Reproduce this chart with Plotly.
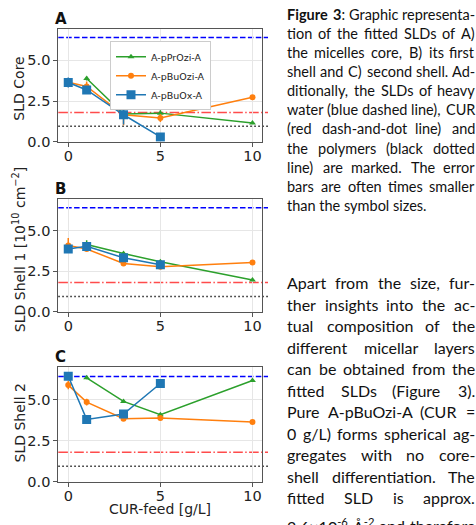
import re
import plotly.graph_objects as go

# ---------------- data ----------------
x_prozi = [1, 3, 5, 10]
x_buozi = [0, 1, 3, 5, 10]
x_buox = [0, 1, 3, 5]

core_prozi = [3.88, 1.70, 1.76, 1.15]
core_prozi_err = [0.12, 0.20, 0.18, 0.05]
core_buozi = [3.65, 3.40, 1.66, 1.46, 2.73]
core_buozi_err = [0.20, 0.30, 0.65, 0.25, 0.08]
core_buox = [3.64, 3.18, 1.66, 0.30]
core_buox_err = [0.30, 0.15, 0.60, 0.08]

shell1_prozi = [4.15, 3.59, 3.08, 1.96]
shell1_prozi_err = [0.25, 0.10, 0.10, 0.05]
shell1_buozi = [4.09, 3.87, 2.98, 2.78, 3.04]
shell1_buozi_err = [0.45, 0.10, 0.08, 0.08, 0.08]
shell1_buox = [3.87, 4.03, 3.33, 2.90]
shell1_buox_err = [0.15, 0.15, 0.15, 0.12]

shell2_prozi = [6.31, 4.88, 4.07, 6.15]
shell2_prozi_err = [0.08, 0.08, 0.08, 0.08]
shell2_buozi = [5.87, 4.84, 3.83, 3.87, 3.63]
shell2_buozi_err = [0.25, 0.20, 0.10, 0.10, 0.08]
shell2_buox = [6.41, 3.79, 4.11, 5.97]
shell2_buox_err = [0.25, 0.10, 0.10, 0.20]

sld_d2o = 6.4
sld_cur = 1.8
sld_polymer = 0.95

series_names = ["A-pPrOzi-A", "A-pBuOzi-A", "A-pBuOx-A"]
panel_labels = ["A", "B", "C"]
y_titles = ["SLD Core", "SLD Shell 1 [10<sup>10</sup> cm<sup>\u22122</sup>]", "SLD Shell 2"]
x_title = "CUR-feed [g/L]"
x_ticks = [0, 5, 10]
y_ticks = [0, 2.5, 5]
y_ticktext = ["0.0", "2.5", "5.0"]

caption_lines = [
    "Figure 3: Graphic representa-",
    "tion of the fitted SLDs of A)",
    "the micelles core, B) its first",
    "shell and C) second shell. Ad-",
    "ditionally, the SLDs of heavy",
    "water (blue dashed line), CUR",
    "(red dash-and-dot line) and",
    "the polymers (black dotted",
    "line) are marked. The error",
    "bars are often times smaller",
    "than the symbol sizes.",
]
body_lines = [
    "Apart from the size, fur-",
    "ther insights into the ac-",
    "tual composition of the",
    "different micellar layers",
    "can be obtained from the",
    "fitted SLDs (Figure 3).",
    "Pure A-pBuOzi-A (CUR =",
    "0 g/L) forms spherical ag-",
    "gregates with no core-",
    "shell differentiation. The",
    "fitted SLD is approx.",
    "2.6\u00d710<sup>-6</sup> \u00c5<sup>-2</sup> and therefore",
]

# ---------------- styling ----------------
W, H = 476, 525
GREEN, ORANGE, BLUE = "#2ca02c", "#ff7f0e", "#1f77b4"
colors = [GREEN, ORANGE, BLUE]
symbols = ["triangle-up", "circle", "square"]
msizes = [6, 6, 9]

ax_left, ax_right = 58.3, 261.7
panels_px = [(29, 144), (202, 316.7), (373, 489.3)]

def px_x(p):
    return p / W

def px_y(p):
    return 1 - p / H

fig = go.Figure()

panel_data = [
    [(x_prozi, core_prozi, core_prozi_err), (x_buozi, core_buozi, core_buozi_err), (x_buox, core_buox, core_buox_err)],
    [(x_prozi, shell1_prozi, shell1_prozi_err), (x_buozi, shell1_buozi, shell1_buozi_err), (x_buox, shell1_buox, shell1_buox_err)],
    [(x_prozi, shell2_prozi, shell2_prozi_err), (x_buozi, shell2_buozi, shell2_buozi_err), (x_buox, shell2_buox, shell2_buox_err)],
]

for pi, pdata in enumerate(panel_data):
    sfx = "" if pi == 0 else str(pi + 1)
    for si, (xs, ys, es) in enumerate(pdata):
        fig.add_trace(go.Scatter(
            x=xs, y=ys, mode="lines+markers",
            name=series_names[si], showlegend=(pi == 0),
            line=dict(color=colors[si], width=1.5),
            marker=dict(symbol=symbols[si], size=msizes[si], color=colors[si]),
            error_y=dict(type="data", array=es, color=colors[si], thickness=1.5, width=0),
            xaxis="x" + sfx, yaxis="y" + sfx,
        ))

axis_common = dict(
    showline=True, linecolor="#555", linewidth=1, mirror=True,
    ticks="outside", ticklen=4, tickcolor="#555",
    tickfont=dict(family="DejaVu Sans", size=14.5, color="#222"),
    showgrid=True, gridcolor="#e6e6e6", gridwidth=1, zeroline=False,
)

layout = dict(
    width=W, height=H, margin=dict(l=0, r=0, t=0, b=0),
    paper_bgcolor="white", plot_bgcolor="rgba(0,0,0,0)",
    showlegend=True,
    legend=dict(x=px_x(110), y=px_y(42), xanchor="left", yanchor="top",
                bgcolor="white", bordercolor="#cccccc", borderwidth=1,
                font=dict(family="DejaVu Sans", size=9.5, color="#222"),
                itemwidth=30, tracegroupgap=0),
)

shapes = []
annotations = []
for pi, (top, bot) in enumerate(panels_px):
    sfx = "" if pi == 0 else str(pi + 1)
    layout["xaxis" + sfx] = dict(axis_common, domain=[px_x(ax_left), px_x(ax_right)],
                                  range=[-0.54, 10.5], tickvals=x_ticks,
                                  ticklabelstandoff=-3,
                                  anchor="y" + sfx)
    layout["yaxis" + sfx] = dict(axis_common, domain=[px_y(bot), px_y(top)],
                                  range=[0, 6.95], tickvals=y_ticks, ticktext=y_ticktext,
                                  anchor="x" + sfx)
    for val, col, dash in [(sld_d2o, "blue", "5.5px,2.4px"),
                           (sld_cur, "rgba(255,30,30,0.8)", "9.6px,2.4px,1.5px,2.4px"),
                           (sld_polymer, "#222", "1.5px,2.5px")]:
        shapes.append(dict(type="line", xref="paper", yref="y" + sfx,
                           x0=px_x(ax_left), x1=px_x(268), y0=val, y1=val,
                           line=dict(color=col, width=1.5, dash=dash), layer="below"))
    annotations.append(dict(text="<b>%s</b>" % panel_labels[pi], xref="paper", yref="paper",
                            x=px_x(53), y=px_y(top - 10), xanchor="left", yanchor="middle",
                            showarrow=False, font=dict(family="DejaVu Sans", size=15, color="#111")))

# y titles
for txt, ypx, xpx in [(y_titles[0], 90, 19), (y_titles[1], 254, 19), (y_titles[2], 430, 20)]:
    annotations.append(dict(text=txt, xref="paper", yref="paper", x=px_x(xpx), y=px_y(ypx),
                            xanchor="center", yanchor="middle", textangle=-90, showarrow=False,
                            font=dict(family="DejaVu Sans", size=14, color="#222")))
annotations.append(dict(text=x_title, xref="paper", yref="paper", x=px_x(160), y=0,
                        xanchor="center", yanchor="bottom", showarrow=False,
                        borderpad=0, borderwidth=0,
                        font=dict(family="DejaVu Sans", size=14, color="#222")))

# ---------------- justified side text ----------------
CW = {}
for c, w in zip("abcdefghijklmnopqrstuvwxyz",
                [.50, .56, .46, .56, .52, .32, .50, .56, .24, .24, .49, .24, .84, .56, .55, .56, .56, .36, .42, .35, .56, .49, .75, .48, .49, .45]):
    CW[c] = w
for c, w in zip("ABCDEFGHIJKLMNOPQRSTUVWXYZ",
                [.67, .64, .67, .74, .56, .54, .72, .75, .29, .40, .66, .50, .90, .75, .78, .60, .78, .63, .53, .59, .72, .67, 1.0, .64, .61, .60]):
    CW[c] = w
for c in "0123456789":
    CW[c] = .58
CW.update({".": .23, ",": .23, ":": .25, ";": .25, "(": .31, ")": .31, "-": .35,
           "=": .58, "/": .36, "\u00d7": .58, "\u00c5": .67})

def word_width(word, fs):
    sup = re.findall(r"<sup>(.*?)</sup>", word)
    plain = re.sub(r"<sup>.*?</sup>", "", word)
    plain = re.sub(r"<.*?>", "", plain)
    w = sum(CW.get(c, .55) for c in plain) * fs
    w += sum(CW.get(c, .55) for s in sup for c in s) * fs * 0.7
    if "<b>" in word:
        w *= 1.07
    return w

def add_justified(line, ypx, fs, left, right, justify=True):
    words = line.split(" ")
    if line.startswith("Figure 3:"):
        words = ["<b>Figure</b>", "<b>3</b>:"] + words[2:]
    if not justify or len(words) == 1:
        annotations.append(dict(text=" ".join(words),
                                xref="paper", yref="paper", x=px_x(left), y=px_y(ypx),
                                xanchor="left", yanchor="middle", showarrow=False,
                                borderpad=0, borderwidth=0,
                                font=dict(family="Lato", size=fs, color="#111")))
        return
    widths = [word_width(w, fs) for w in words]
    gap = (right - left - sum(widths)) / (len(words) - 1)
    x = left
    for i, (wd, ww) in enumerate(zip(words, widths)):
        last = i == len(words) - 1
        annotations.append(dict(text=wd, xref="paper", yref="paper",
                                x=px_x(right if last else x), y=px_y(ypx),
                                xanchor="right" if last else "left", yanchor="middle",
                                showarrow=False, borderpad=0, borderwidth=0,
                                font=dict(family="Lato", size=fs, color="#111")))
        x += ww + gap

for i, ln in enumerate(caption_lines):
    add_justified(ln, 15 + 19.33 * i, 14.5, 287, 475, justify=(i != len(caption_lines) - 1))
for i, ln in enumerate(body_lines):
    extra = 7 if i == len(body_lines) - 1 else 0
    add_justified(ln, 287.3 + 21.8 * i + extra, 16, 287, 475, justify=True)

layout["shapes"] = shapes
layout["annotations"] = annotations
fig.update_layout(**layout)
fig.write_html("out.html")
